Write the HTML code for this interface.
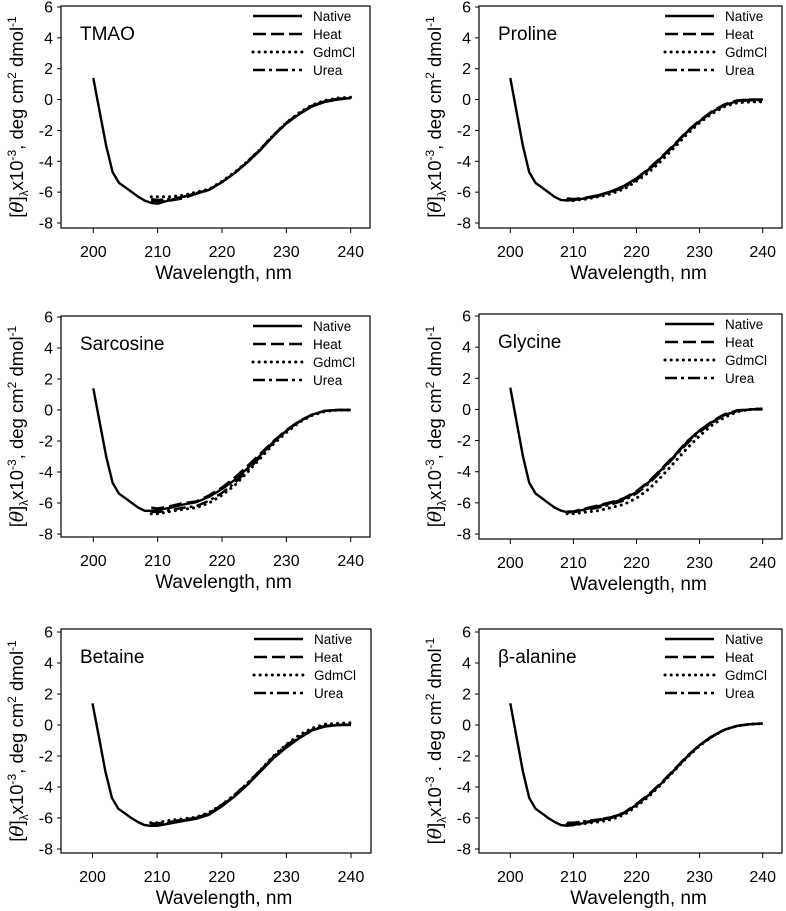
<!DOCTYPE html>
<html><head><meta charset="utf-8"><style>
html,body{margin:0;padding:0;background:#fff;}
svg{display:block;font-family:"Liberation Sans",Arial,sans-serif;}
</style></head><body>
<svg id="fig" width="786" height="911" viewBox="0 0 786 911" xmlns="http://www.w3.org/2000/svg"></svg>
<script>
const titles = ["TMAO","Proline","Sarcosine","Glycine","Betaine","β-alanine"];
const xTicks = [200,210,220,230,240];
const yTicks = [6,4,2,0,-2,-4,-6,-8];
const seriesNames = ["Native","Heat","GdmCl","Urea"];
const wlNative = [200,201,202,203,204,205,206,207,208,209,210,212,214,216,218,220,222,224,226,228,230,232,234,236,238,240];
const wlOther = [209,210,212,214,216,218,220,222,224,226,228,230,232,234,236,238,240];
const nativeVals = [
 [1.4,-0.8,-3,-4.7,-5.4,-5.7,-6.0,-6.3,-6.55,-6.7,-6.75,-6.5,-6.3,-6.1,-5.85,-5.35,-4.75,-4.05,-3.25,-2.35,-1.55,-0.95,-0.45,-0.15,0.0,0.1],
 [1.4,-0.8,-3,-4.7,-5.4,-5.7,-6.0,-6.3,-6.5,-6.55,-6.5,-6.4,-6.2,-5.95,-5.6,-5.1,-4.5,-3.75,-2.95,-2.1,-1.4,-0.8,-0.35,-0.1,0.0,0.0],
 [1.4,-0.8,-3,-4.7,-5.4,-5.7,-6.0,-6.3,-6.5,-6.5,-6.45,-6.3,-6.1,-5.95,-5.6,-5.1,-4.5,-3.75,-2.9,-2.05,-1.35,-0.75,-0.3,-0.05,0.0,0.0],
 [1.4,-0.8,-3,-4.7,-5.4,-5.7,-6.0,-6.3,-6.5,-6.6,-6.6,-6.4,-6.2,-6.0,-5.75,-5.3,-4.65,-3.85,-3.0,-2.1,-1.35,-0.8,-0.35,-0.1,0.0,0.0],
 [1.4,-0.8,-3,-4.7,-5.4,-5.7,-6.0,-6.25,-6.45,-6.5,-6.5,-6.35,-6.2,-6.05,-5.8,-5.25,-4.6,-3.85,-3.0,-2.15,-1.45,-0.85,-0.35,-0.1,0.0,0.0],
 [1.4,-0.8,-3,-4.7,-5.4,-5.7,-6.0,-6.25,-6.45,-6.5,-6.45,-6.3,-6.15,-6.0,-5.7,-5.15,-4.5,-3.75,-2.9,-2.05,-1.3,-0.75,-0.3,-0.05,0.05,0.1]
];
const heatVals = [
 [-6.55,-6.6,-6.55,-6.4,-6.1,-5.85,-5.35,-4.75,-4.0,-3.2,-2.3,-1.5,-0.9,-0.4,-0.1,0.05,0.1],
 [-6.4,-6.45,-6.35,-6.2,-5.95,-5.6,-5.1,-4.45,-3.7,-2.9,-2.05,-1.35,-0.75,-0.3,-0.05,0.0,0.0],
 [-6.3,-6.35,-6.2,-6.0,-5.9,-5.5,-5.0,-4.35,-3.6,-2.8,-2.0,-1.3,-0.7,-0.3,-0.05,0.0,0.0],
 [-6.55,-6.55,-6.35,-6.15,-5.95,-5.7,-5.25,-4.6,-3.8,-2.95,-2.05,-1.35,-0.75,-0.3,-0.05,0.0,0.05],
 [-6.35,-6.35,-6.25,-6.1,-6.0,-5.75,-5.2,-4.55,-3.8,-2.95,-2.1,-1.4,-0.8,-0.3,-0.05,0.0,0.05],
 [-6.35,-6.35,-6.25,-6.1,-5.95,-5.65,-5.1,-4.45,-3.7,-2.85,-2.0,-1.3,-0.7,-0.3,-0.05,0.05,0.1]
];
const gdmVals = [
 [-6.3,-6.3,-6.3,-6.2,-6.0,-5.8,-5.3,-4.7,-4.0,-3.2,-2.3,-1.5,-0.85,-0.35,-0.05,0.1,0.15],
 [-6.5,-6.55,-6.45,-6.3,-6.1,-5.8,-5.3,-4.7,-3.95,-3.1,-2.25,-1.5,-0.9,-0.45,-0.2,-0.15,-0.15],
 [-6.7,-6.7,-6.55,-6.4,-6.3,-6.0,-5.5,-4.85,-4.0,-3.1,-2.2,-1.45,-0.8,-0.35,-0.1,0.0,0.0],
 [-6.7,-6.7,-6.6,-6.5,-6.3,-6.1,-5.7,-5.1,-4.3,-3.4,-2.5,-1.7,-1.0,-0.5,-0.15,0.0,0.05],
 [-6.3,-6.3,-6.15,-6.05,-5.95,-5.65,-5.15,-4.5,-3.75,-2.9,-2.0,-1.25,-0.65,-0.2,0.05,0.1,0.15],
 [-6.4,-6.45,-6.35,-6.25,-6.1,-5.8,-5.25,-4.6,-3.8,-2.95,-2.1,-1.35,-0.75,-0.3,-0.05,0.05,0.1]
];
const ureaVals = [
 [-6.45,-6.5,-6.45,-6.3,-6.05,-5.85,-5.35,-4.75,-4.05,-3.25,-2.35,-1.55,-0.9,-0.4,-0.1,0.05,0.1],
 [-6.45,-6.5,-6.4,-6.25,-6.0,-5.7,-5.2,-4.55,-3.8,-2.95,-2.1,-1.4,-0.8,-0.35,-0.1,-0.05,-0.05],
 [-6.55,-6.6,-6.45,-6.3,-6.2,-5.85,-5.35,-4.7,-3.9,-3.0,-2.1,-1.35,-0.75,-0.3,-0.05,0.0,0.0],
 [-6.6,-6.6,-6.45,-6.3,-6.1,-5.85,-5.4,-4.75,-3.95,-3.05,-2.2,-1.45,-0.85,-0.35,-0.1,0.0,0.0],
 [-6.4,-6.4,-6.3,-6.15,-6.0,-5.7,-5.15,-4.5,-3.75,-2.9,-2.05,-1.3,-0.75,-0.3,-0.05,0.0,0.05],
 [-6.3,-6.3,-6.2,-6.1,-5.95,-5.7,-5.15,-4.5,-3.75,-2.9,-2.05,-1.3,-0.7,-0.3,-0.05,0.05,0.1]
];
const panels = [
 {bx0:61,by0:6,bx1:370,by1:228,x200:93.3,x240:350.7,y6:7,ym8:223},
 {bx0:479,by0:6,bx1:782,by1:228,x200:510.3,x240:762.7,y6:7,ym8:223},
 {bx0:61,by0:316,bx1:370,by1:537,x200:93.3,x240:350.7,y6:317,ym8:534},
 {bx0:479,by0:314,bx1:782,by1:539,x200:510.3,x240:762.7,y6:316,ym8:534},
 {bx0:61,by0:629,bx1:371,by1:853,x200:92.5,x240:351,y6:632,ym8:849},
 {bx0:479,by0:629,bx1:782,by1:853,x200:510.3,x240:762.7,y6:632,ym8:849}
];
const styles = [
 {dash:null,cap:"butt"},
 {dash:"13,5",cap:"butt"},
 {dash:"0.1,6",cap:"round"},
 {dash:"12,4,3,4",cap:"butt"}
];
const NS="http://www.w3.org/2000/svg";
const svg=document.getElementById('fig');
function mk(tag,attrs,parent,text){const e=document.createElementNS(NS,tag);for(const k in attrs)e.setAttribute(k,attrs[k]);if(text!==undefined)e.textContent=text;(parent||svg).appendChild(e);return e;}
panels.forEach((p,i)=>{
 const g=mk('g',{});
 
 
 const xs=v=>p.x200+(v-200)*(p.x240-p.x200)/40;
 const ys=v=>p.y6+(6-v)*(p.ym8-p.y6)/14;
 const box=mk('rect',{x:p.bx0,y:p.by0,width:p.bx1-p.bx0,height:p.by1-p.by0,fill:'none',stroke:'#000','stroke-width':1.2},g);
 
 
 yTicks.forEach(t=>{
  const y=ys(t);
  mk('line',{x1:p.bx0-4,x2:p.bx0,y1:y,y2:y,stroke:'#000','stroke-width':1},g);
  const tl=mk('text',{x:p.bx0-8,y:y+5.5,'text-anchor':'end','font-size':16},g,String(t));
  
  
 });
 xTicks.forEach(t=>{
  const x=xs(t);
  mk('line',{x1:x,x2:x,y1:p.by1,y2:p.by1+5,stroke:'#000','stroke-width':1},g);
  const tl=mk('text',{x:x,y:p.by1+29,'text-anchor':'middle','font-size':16},g,String(t));
  
  
 });
 const xt=mk('text',{x:(p.bx0+p.bx1)/2+8,y:p.by1+51,'text-anchor':'middle','font-size':19},g,'Wavelength, nm');
 
 
 const cx=p.bx0-45, cy=(p.by0+p.by1)/2;
 const yt=mk('text',{x:cx,y:cy,'text-anchor':'middle','font-size':18.5,transform:`rotate(-90 ${cx} ${cy}) translate(0 7)`},g);
 
 
 mk('tspan',{},yt,'[');
 mk('tspan',{'font-style':'italic','font-family':'"DejaVu Serif",serif'},yt,'θ');
 mk('tspan',{},yt,']');
 mk('tspan',{'font-size':12,dy:5},yt,'λ');
 mk('tspan',{dy:-5},yt,'x10');
 mk('tspan',{'font-size':12,dy:-7},yt,'-3');
 mk('tspan',{dy:7},yt,i===5?' . deg cm':', deg cm');
 mk('tspan',{'font-size':12,dy:-7},yt,'2');
 mk('tspan',{dy:7},yt,' dmol');
 mk('tspan',{'font-size':12,dy:-7},yt,'-1');
 const tt=mk('text',{x:p.bx0+19,y:p.by0+34,'font-size':19},g,titles[i]);
 
 
 const all=[[wlNative,nativeVals[i]],[wlOther,heatVals[i]],[wlOther,gdmVals[i]],[wlOther,ureaVals[i]]];
 all.slice().reverse().forEach((s,rj)=>{
  const j=3-rj;
  const d=s[0].map((w,k)=>(k?'L':'M')+xs(w).toFixed(1)+','+ys(s[1][k]).toFixed(1)).join('');
  const a={d:d,fill:'none',stroke:'#000','stroke-width':j===2?3:2.4,'stroke-linecap':styles[j].cap,'stroke-linejoin':'round'};
  if(styles[j].dash)a['stroke-dasharray']=styles[j].dash;
  const path=mk('path',a,g);
  
  
 });
 const lx0=p.bx1-117, lx1=lx0+49, ly=p.by0+10;
 seriesNames.forEach((n,j)=>{
  const y=ly+j*18;
  const a={x1:lx0,x2:lx1,y1:y,y2:y,stroke:'#000','stroke-width':j===2?3:2.4,'stroke-linecap':styles[j].cap};
  if(styles[j].dash)a['stroke-dasharray']=styles[j].dash;
  const ln=mk('line',a,g);
  
  
  const lt=mk('text',{x:lx1+11,y:y+5,'font-size':13.5},g,n);
  
  
 });
});
</script>
</body></html>
